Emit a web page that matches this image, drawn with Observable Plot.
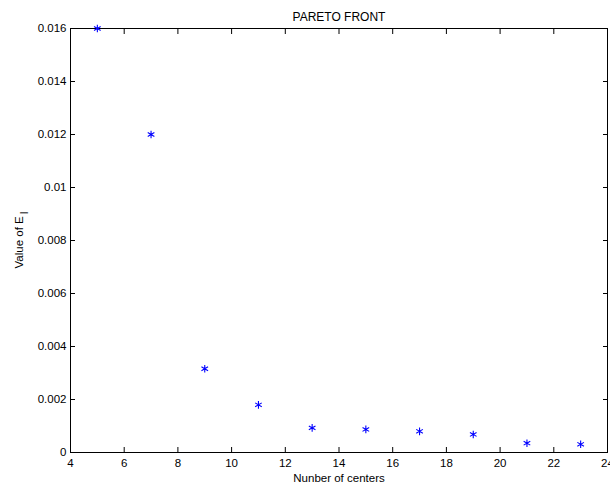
<!DOCTYPE html>
<html>
<head>
<meta charset="utf-8">
<script src="https://cdn.jsdelivr.net/npm/d3@7"></script>
<script src="https://cdn.jsdelivr.net/npm/@observablehq/plot@0.6"></script>
<style>
  html, body { margin: 0; padding: 0; background: white; }
</style>
</head>
<body>
<div id="chart"></div>
<script>
const centers = [5, 7, 9, 11, 13, 15, 17, 19, 21, 23];
const errorValues = [0.016, 0.012, 0.00316, 0.0018, 0.00093, 0.00087, 0.0008, 0.00068, 0.00035, 0.00031];
const xTicks = [4, 6, 8, 10, 12, 14, 16, 18, 20, 22, 24];
const yTicks = [0, 0.002, 0.004, 0.006, 0.008, 0.01, 0.012, 0.014, 0.016];
const titleText = "PARETO FRONT";
const xLabelText = "Nunber of centers";
const yLabelMain = "Value of E";
const yLabelSub = "I";

const data = centers.map((c, i) => ({x: c, y: errorValues[i]}));
const blank = () => "";

const plot = Plot.plot({
  width: 610,
  height: 488,
  marginLeft: 70,
  marginRight: 3,
  marginTop: 28,
  marginBottom: 36,
  style: {fontFamily: "Liberation Sans, Arial, sans-serif", fontSize: "11.5px", color: "black", background: "white"},
  x: {domain: [4, 24]},
  y: {domain: [0, 0.016]},
  marks: [
    Plot.frame({stroke: "black", strokeWidth: 1}),
    Plot.axisX({ticks: xTicks, tickSize: 0, tickPadding: 6, tickFormat: d => String(d), label: null}),
    Plot.axisX({ticks: xTicks, tickSize: -5, tickFormat: blank, label: null}),
    Plot.axisX({anchor: "top", ticks: xTicks, tickSize: -5, tickFormat: blank, label: null}),
    Plot.axisY({ticks: yTicks, tickSize: 0, tickPadding: 4, tickFormat: d => String(+d.toFixed(3)), label: null}),
    Plot.axisY({ticks: yTicks, tickSize: -5, tickFormat: blank, label: null}),
    Plot.axisY({anchor: "right", ticks: yTicks, tickSize: -5, tickFormat: blank, label: null}),
    Plot.dot(data, {x: "x", y: "y", symbol: "asterisk", r: 3.6, stroke: "blue", strokeWidth: 1.1}),
    Plot.text([titleText], {frameAnchor: "top", text: d => d, lineAnchor: "bottom", dy: -8, fontSize: 12}),
    Plot.text([xLabelText], {frameAnchor: "bottom", text: d => d, lineAnchor: "bottom", dy: 29.5, fontSize: 11.5})
  ]
});

const svg = d3.select(plot);
const yl = svg.append("text")
  .attr("transform", "translate(23,240) rotate(-90)")
  .attr("text-anchor", "middle")
  .attr("font-size", 11.5)
  .attr("fill", "black");
yl.append("tspan").text(yLabelMain);
yl.append("tspan").attr("dy", 5).attr("dx", 2).attr("font-size", 10).text(yLabelSub);

document.getElementById("chart").appendChild(plot);
</script>
</body>
</html>
